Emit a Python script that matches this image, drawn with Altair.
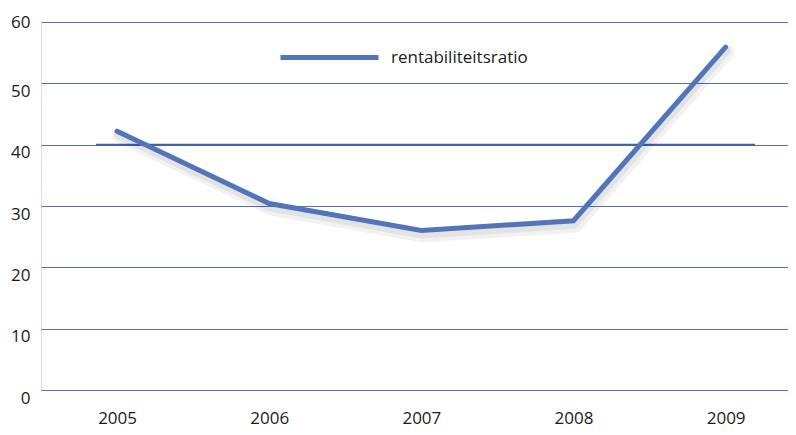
import altair as alt
import pandas as pd

years = [2005, 2006, 2007, 2008, 2009]
ratio = [42.2, 30.4, 26.0, 27.6, 55.9]
series = ["rentabiliteitsratio"] * 5
y_ticks = [0, 10, 20, 30, 40, 50, 60]

df = pd.DataFrame({"jaar": years, "waarde": ratio, "reeks": series})

FONT = "Open Sans"
LINE = "#5275B9"
GRID = "#4D72B8"

xscale = alt.Scale(domain=[2004.5, 2009.41], nice=False, zero=False)
yscale = alt.Scale(domain=[0, 60], nice=False)

base = alt.Chart(df)

shadow1 = base.mark_line(color="#000000", opacity=0.05, strokeWidth=14,
                         yOffset=5, xOffset=2, strokeJoin="round", strokeCap="round").encode(
    x=alt.X("jaar:Q", scale=xscale),
    y=alt.Y("waarde:Q", scale=yscale),
)
shadow2 = base.mark_line(color="#000000", opacity=0.06, strokeWidth=8,
                         yOffset=4, xOffset=1, strokeJoin="round", strokeCap="round").encode(
    x=alt.X("jaar:Q", scale=xscale),
    y=alt.Y("waarde:Q", scale=yscale),
)

line = base.mark_line(strokeWidth=5, strokeJoin="miter", strokeCap="round").encode(
    x=alt.X("jaar:Q", scale=xscale, title=None,
            axis=alt.Axis(values=years, format="d", grid=False, domain=False, ticks=False,
                          labelPadding=20, labelFontSize=17, labelFont=FONT,
                          labelColor="#1a1a1a")),
    y=alt.Y("waarde:Q", scale=yscale, title=None,
            axis=alt.Axis(values=y_ticks, grid=True, gridColor=GRID, gridWidth=1,
                          domain=False, ticks=False, labelPadding=11,
                          labelFontSize=17, labelFont=FONT, labelColor="#1a1a1a",
                          labelBaseline={"condition": {"test": "datum.value == 60", "value": "middle"},
                                         "value": "top"})),
    color=alt.Color("reeks:N", scale=alt.Scale(range=[LINE]),
                    legend=alt.Legend(title=None, orient="none", legendX=237, legendY=-16,
                                      symbolType="stroke", symbolSize=9604, symbolStrokeWidth=5,
                                      symbolOffset=0, labelOffset=10, padding=0,
                                      labelFontSize=17, labelFont=FONT, labelColor="#1a1a1a")),
)

rule40 = alt.Chart(pd.DataFrame({"v": [40]})).mark_rule(color="#3D62A8", strokeWidth=2).encode(
    y=alt.Y("v:Q", scale=yscale),
    x=alt.value(55),
    x2=alt.value(714),
)

chart = alt.layer(rule40, shadow1, shadow2, line).properties(
    width=747, height=368,
    padding={"left": 33, "top": 14, "right": 0, "bottom": 40},
    autosize=alt.AutoSizeParams(type="none"),
).configure_view(stroke=None).configure(background="white")

chart.save("out.html", embed_options={"renderer": "svg", "actions": False})
